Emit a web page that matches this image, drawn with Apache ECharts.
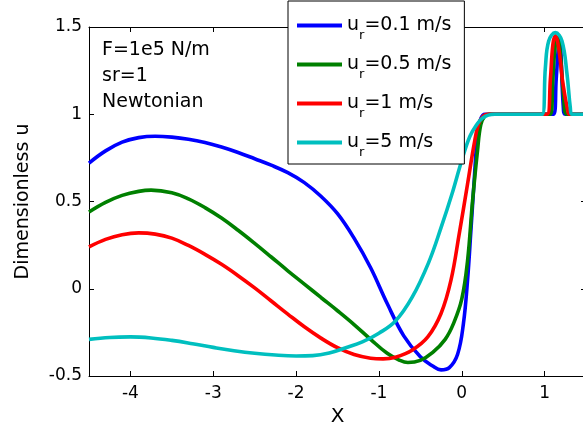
<!DOCTYPE html>
<html>
<head>
<meta charset="utf-8">
<script src="https://cdn.jsdelivr.net/npm/echarts@6/dist/echarts.min.js"></script>
<style>
  html, body { margin: 0; padding: 0; background: #fff; }
  #chart { width: 583px; height: 428px; }
</style>
</head>
<body>
<div id="chart"></div>
<script>
// Legend speeds (u_r) and line colours
const speeds = ['0.1', '0.5', '1', '5'];
const colors = ['#0000ff', '#008000', '#ff0000', '#00bfbf'];

// Tick positions
const xTicks = [-4, -3, -2, -1, 0, 1];
const yTicks = [-0.5, 0, 0.5, 1, 1.5];

// Case description
const notes = ['F=1e5 N/m', 'sr=1', 'Newtonian'];

// u_r = 0.1 m/s
const x01 = [-4.5, -4.3, -4.1, -3.9, -3.7, -3.5, -3.3, -3.1, -2.9, -2.7, -2.5, -2.3, -2.1, -1.9, -1.7, -1.5, -1.3, -1.1, -0.9, -0.7, -0.5, -0.35, -0.25, -0.15, -0.05, 0.02, 0.07, 0.11, 0.15, 0.19, 0.23, 0.28, 0.6, 1.11, 1.14, 1.17, 1.185, 1.2, 1.225, 1.25, 1.5];
const u01 = [0.72, 0.79, 0.84, 0.866, 0.874, 0.869, 0.857, 0.838, 0.812, 0.781, 0.745, 0.708, 0.665, 0.608, 0.53, 0.43, 0.29, 0.12, -0.085, -0.27, -0.39, -0.443, -0.465, -0.452, -0.375, -0.2, 0.05, 0.33, 0.62, 0.88, 0.975, 1.0, 1.0, 1.0, 1.2, 1.4, 1.43, 1.32, 1.05, 1.0, 1.0];

// u_r = 0.5 m/s
const x05 = [-4.5, -4.3, -4.1, -3.9, -3.75, -3.5, -3.3, -3.1, -2.9, -2.7, -2.5, -2.3, -2.1, -1.9, -1.7, -1.5, -1.3, -1.1, -0.9, -0.75, -0.65, -0.5, -0.35, -0.2, -0.1, 0.0, 0.07, 0.13, 0.19, 0.23, 0.28, 0.33, 0.6, 1.07, 1.10, 1.13, 1.16, 1.19, 1.23, 1.27, 1.5];
const u05 = [0.44, 0.495, 0.535, 0.558, 0.565, 0.55, 0.515, 0.465, 0.405, 0.335, 0.26, 0.182, 0.103, 0.027, -0.05, -0.126, -0.205, -0.29, -0.37, -0.41, -0.423, -0.41, -0.365, -0.29, -0.2, -0.06, 0.16, 0.5, 0.79, 0.94, 0.99, 1.0, 1.0, 1.0, 1.2, 1.4, 1.44, 1.35, 1.1, 1.0, 1.0];

// u_r = 1 m/s
const x1 = [-4.5, -4.3, -4.1, -3.9, -3.7, -3.5, -3.3, -3.1, -2.9, -2.7, -2.5, -2.3, -2.1, -1.9, -1.7, -1.5, -1.3, -1.1, -0.95, -0.8, -0.6, -0.41, -0.25, -0.13, -0.03, 0.07, 0.15, 0.2, 0.26, 0.32, 0.6, 1.03, 1.07, 1.10, 1.13, 1.17, 1.22, 1.28, 1.3, 1.5];
const u1 = [0.24, 0.283, 0.31, 0.32, 0.313, 0.29, 0.248, 0.197, 0.14, 0.075, 0.005, -0.07, -0.145, -0.218, -0.283, -0.338, -0.377, -0.398, -0.402, -0.392, -0.352, -0.276, -0.142, 0.049, 0.316, 0.6, 0.83, 0.94, 0.99, 1.0, 1.0, 1.0, 1.2, 1.4, 1.45, 1.38, 1.18, 1.02, 1.0, 1.0];

// u_r = 5 m/s
const x5 = [-4.5, -4.25, -4.0, -3.75, -3.5, -3.25, -3.0, -2.75, -2.5, -2.25, -2.0, -1.8, -1.6, -1.4, -1.2, -1.0, -0.8, -0.6, -0.4, -0.25, -0.12, 0.0, 0.1, 0.19, 0.25, 0.32, 0.4, 0.6, 0.97, 1.01, 1.05, 1.13, 1.21, 1.27, 1.31, 1.33, 1.5];
const u5 = [-0.29, -0.279, -0.276, -0.282, -0.296, -0.315, -0.336, -0.355, -0.37, -0.38, -0.385, -0.383, -0.368, -0.338, -0.305, -0.255, -0.185, -0.05, 0.15, 0.35, 0.54, 0.735, 0.875, 0.947, 0.978, 0.995, 1.0, 1.0, 1.0, 1.27, 1.42, 1.468, 1.42, 1.233, 1.04, 1.0, 1.0];

const FONT = 'DejaVu Sans';
const curves = [[x01, u01], [x05, u05], [x1, u1], [x5, u5]];
const pairs = (xs, ys) => xs.map((x, i) => [x, ys[i]]);

const chart = echarts.init(document.getElementById('chart'), null, { renderer: 'canvas' });

const axisLineStyle = { color: '#000', width: 1 };
const tickCommon = { show: true, inside: true, length: 5, lineStyle: { color: '#000', width: 1 } };

const series = curves.map((c, i) => ({
  name: speeds[i],
  type: 'line',
  xAxisIndex: 0,
  yAxisIndex: 0,
  data: pairs(c[0], c[1]),
  symbol: 'none',
  showSymbol: false,
  smooth: 0.4,
  lineStyle: { color: colors[i], width: 3.6 },
  itemStyle: { color: colors[i] },
  z: 2 + i
}));

chart.setOption({
  animation: false,
  backgroundColor: '#fff',
  grid: { left: 89, top: 27, width: 497, height: 349, containLabel: false, outerBoundsMode: 'none' },
  xAxis: [
    {
      type: 'value', min: -4.5, max: 1.5, position: 'bottom',
      axisLine: { show: true, onZero: false, lineStyle: axisLineStyle },
      axisTick: Object.assign({ customValues: xTicks }, tickCommon),
      axisLabel: { customValues: xTicks, color: '#000', fontFamily: FONT, fontSize: 17, margin: 9 },
      splitLine: { show: false },
      name: 'X', nameLocation: 'middle', nameGap: 31,
      nameTextStyle: { color: '#000', fontFamily: FONT, fontSize: 20 }
    },
    {
      type: 'value', min: -4.5, max: 1.5, position: 'top',
      axisLine: { show: true, onZero: false, lineStyle: axisLineStyle },
      axisTick: Object.assign({ customValues: xTicks }, tickCommon),
      axisLabel: { show: false },
      splitLine: { show: false }
    }
  ],
  yAxis: [
    {
      type: 'value', min: -0.5, max: 1.5, position: 'left',
      axisLine: { show: true, onZero: false, lineStyle: axisLineStyle },
      axisTick: Object.assign({ customValues: yTicks }, tickCommon),
      axisLabel: { customValues: yTicks, color: '#000', fontFamily: FONT, fontSize: 17, margin: 7 },
      splitLine: { show: false },
      name: 'Dimensionless u', nameLocation: 'middle', nameGap: 56,
      nameTextStyle: { color: '#000', fontFamily: FONT, fontSize: 19 }
    },
    {
      type: 'value', min: -0.5, max: 1.5, position: 'right',
      axisLine: { show: true, onZero: false, lineStyle: axisLineStyle },
      axisTick: Object.assign({ customValues: yTicks }, tickCommon),
      axisLabel: { show: false },
      splitLine: { show: false }
    }
  ],
  legend: {
    orient: 'vertical',
    left: 288, top: 1,
    padding: [8, 13, 5, 9],
    itemGap: 6,
    itemWidth: 45, itemHeight: 4,
    icon: 'rect',
    backgroundColor: '#fff',
    borderColor: '#000', borderWidth: 1, borderRadius: 0,
    data: speeds,
    selectedMode: false,
    z: 10,
    formatter: name => '{a|u}{s|r}{a|=' + name + ' m/s}',
    textStyle: {
      color: '#000', fontFamily: FONT, fontSize: 19,
      rich: {
        a: { color: '#000', fontFamily: FONT, fontSize: 19, lineHeight: 20 },
        s: { color: '#000', fontFamily: FONT, fontSize: 13, lineHeight: 14, padding: [20, 0, 0, 0] }
      }
    }
  },
  graphic: [
    {
      type: 'text', left: 102, top: 37, z: 10,
      style: { text: notes.join('\n'), font: '19px "DejaVu Sans"', fill: '#000', lineHeight: 26 }
    }
  ],
  series: series
});
</script>
</body>
</html>
